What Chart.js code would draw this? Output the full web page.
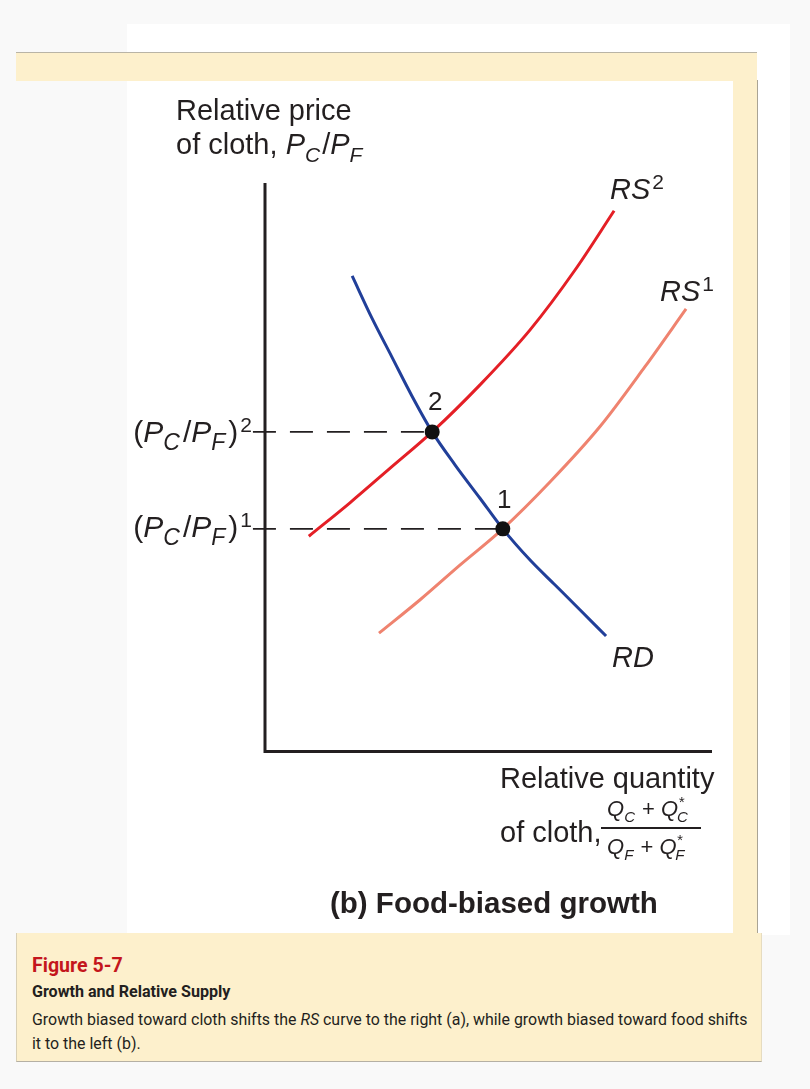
<!DOCTYPE html>
<html>
<head>
<meta charset="utf-8">
<script src="https://cdn.jsdelivr.net/npm/chart.js@4/dist/chart.umd.min.js"></script>
<style>
  body { margin: 0; background: #f9f9f9; }
  #page { position: relative; width: 810px; height: 1089px; overflow: hidden; font-family: "Liberation Sans", Arial, sans-serif; color: #231f20; }
  .blk { position: absolute; }
  .t { position: absolute; white-space: nowrap; line-height: 1; font-size: 29px; }
  .i { font-style: italic; }
  .sub { position: relative; top: 8px; font-size: 21px; margin-right: 2px; }
  .sup { position: relative; top: -10px; font-size: 21px; margin-left: 2px; }
  .big { font-size: 30px; }
  .big .sub { font-size: 23px; margin-right: 3px; }
  .fr { font-size: 22px; }
  .fr .sub { top: 6px; font-size: 15px; margin-right: 1px; }
  .fr .st { position: relative; top: -9px; font-size: 15px; }
  .cap { position: absolute; white-space: nowrap; line-height: 1; font-family: Roboto, sans-serif; transform-origin: 0 0; }
  #chart-box { position: absolute; left: 127px; top: 80px; width: 606px; height: 853px; }
</style>
</head>
<body>
<div id="page">
  <!-- panel background -->
  <div class="blk" style="left:127px;top:24px;width:663px;height:911px;background:#fff"></div>
  <div class="blk" style="left:16px;top:52px;width:741px;height:28px;background:#fdf0cc;border-top:1px solid #b9b4a6"></div>
  <div class="blk" style="left:733px;top:80px;width:24px;height:853px;background:#fdf0cc;border-right:1px solid #aaa494"></div>
  <div class="blk" style="left:16px;top:933px;width:744px;height:128px;background:#fdf0cc;border-left:1px solid #d8cfb6;border-bottom:1px solid #b5b0a4;border-right:1px solid #e6dcc0"></div>

  <div id="chart-box"><canvas id="chart" width="606" height="853"></canvas></div>

  <!-- axis titles -->
  <div class="t" style="left:176px;top:96px">Relative price</div>
  <div class="t" style="left:176px;top:130px">of cloth, <span class="i">P</span><span class="i sub">C</span>/<span class="i">P</span><span class="i sub">F</span></div>
  <div class="t" style="left:500px;top:764px">Relative quantity</div>
  <div class="t" style="left:500px;top:818px">of cloth,</div>
  <div class="t fr" style="left:607px;top:798px"><span class="i">Q</span><span class="i sub">C</span> + <span class="i">Q</span><span class="i st">*</span><span class="i sub" style="margin-left:-7px">C</span></div>
  <div class="blk" style="left:601px;top:827px;width:100px;height:2px;background:#231f20"></div>
  <div class="t fr" style="left:607px;top:836px"><span class="i">Q</span><span class="i sub">F</span> + <span class="i">Q</span><span class="i st">*</span><span class="i sub" style="margin-left:-7px">F</span></div>

  <!-- curve labels -->
  <div class="t" style="left:610px;top:175px"><span class="i">RS</span><span class="sup">2</span></div>
  <div class="t" style="left:660px;top:277px"><span class="i">RS</span><span class="sup">1</span></div>
  <div class="t" style="left:612px;top:643px"><span class="i">RD</span></div>
  <div class="t" style="left:428px;top:388px;font-size:26px">2</div>
  <div class="t" style="left:497px;top:486px;font-size:26px">1</div>

  <!-- price levels -->
  <div class="t big" style="right:558px;top:417px">(<span class="i">P</span><span class="i sub">C</span>/<span class="i">P</span><span class="i sub">F</span>)<span class="sup">2</span></div>
  <div class="t big" style="right:558px;top:512px">(<span class="i">P</span><span class="i sub">C</span>/<span class="i">P</span><span class="i sub">F</span>)<span class="sup">1</span></div>

  <div class="t" style="left:330px;top:888px;font-size:29.5px;font-weight:bold">(b) Food-biased growth</div>

  <!-- caption -->
  <div class="cap" id="cap-fig" data-w="91" style="left:32px;top:955px;font-size:20px;font-weight:bold;color:#c4161c">Figure 5-7</div>
  <div class="cap" id="cap-title" data-w="198" style="left:32px;top:984px;font-size:16.5px;font-weight:bold;color:#231f20">Growth and Relative Supply</div>
  <div class="cap" id="cap-l1" data-w="715" style="left:32px;top:1012px;font-size:16.5px;color:#231f20">Growth biased toward cloth shifts the <span class="i">RS</span> curve to the right (a), while growth biased toward food shifts</div>
  <div class="cap" id="cap-l2" style="left:32px;top:1036px;font-size:16.5px;color:#231f20">it to the left (b).</div>
</div>

<script>
// Relative quantity (x) and relative price (y), both on a 0-100 scale
const rdX  = [19.5, 23.9, 28.4, 32.9, 37.4, 42.5, 48.1, 53.2, 59.3, 64.9, 70.5, 76.3];
const rdY  = [83.6, 76.2, 69.3, 62.4, 56.1, 50.3, 44.4, 39.0, 33.5, 29.1, 24.7, 20.1];
const rs2X = [9.8, 19.0, 28.0, 37.4, 48.1, 59.3, 69.4, 78.1];
const rs2Y = [37.7, 43.6, 49.7, 56.1, 64.4, 74.1, 84.7, 95.1];
const rs1X = [25.5, 34.7, 43.6, 53.2, 63.8, 74.9, 85.0, 94.2];
const rs1Y = [20.6, 26.5, 32.6, 39.0, 47.3, 57.0, 67.6, 77.8];

// equilibria: point 2 (RS2 x RD) and point 1 (RS1 x RD)
const eqX = [37.4, 53.2];
const eqY = [56.1, 39.0];
const dashStartX = -2.7; // dashed guide starts just left of the price axis

const pts = (xs, ys) => xs.map((x, i) => ({ x, y: ys[i] }));
const INK = '#231f20';

const curve = (data, color) => ({
  data, borderColor: color, borderWidth: 3, pointRadius: 0,
  showLine: true, cubicInterpolationMode: 'monotone', clip: false, order: 1
});
const guide = (i) => ({
  data: [{ x: dashStartX, y: eqY[i] }, { x: eqX[i], y: eqY[i] }],
  borderColor: INK, borderWidth: 1.8, borderDash: [23, 14], pointRadius: 0,
  showLine: true, clip: false, order: 2
});

const axesPlugin = {
  id: 'axes',
  beforeDatasetsDraw(chart) {
    const { ctx, scales: { x, y } } = chart;
    const x0 = x.getPixelForValue(0), y0 = y.getPixelForValue(0);
    ctx.save();
    ctx.strokeStyle = INK;
    ctx.lineWidth = 3;
    ctx.beginPath();
    ctx.moveTo(x0, y.getPixelForValue(100));
    ctx.lineTo(x0, y0 + 1.5);
    ctx.lineTo(x.getPixelForValue(100), y0 + 1.5);
    ctx.stroke();
    ctx.restore();
  }
};

new Chart(document.getElementById('chart'), {
  type: 'scatter',
  data: {
    datasets: [
      guide(0), guide(1),
      curve(pts(rs1X, rs1Y), '#ef836f'),
      curve(pts(rs2X, rs2Y), '#e41f26'),
      curve(pts(rdX, rdY), '#213f99'),
      { data: pts(eqX, eqY), pointRadius: 7.5, pointBackgroundColor: '#111', pointBorderWidth: 0, clip: false, order: 0 }
    ]
  },
  options: {
    responsive: false,
    devicePixelRatio: 1,
    animation: false,
    layout: { padding: { left: 138, top: 103, right: 21, bottom: 183 } },
    plugins: { legend: { display: false }, tooltip: { enabled: false } },
    scales: {
      x: { type: 'linear', min: 0, max: 100, display: false },
      y: { type: 'linear', min: 0, max: 100, display: false }
    }
  },
  plugins: [axesPlugin]
});

// caption font is condensed: squeeze each line to the width it has in the print
const l1 = document.getElementById('cap-l1');
let lineScale = 1;
document.querySelectorAll('.cap[data-w]').forEach(el => {
  const s = +el.dataset.w / el.offsetWidth;
  el.style.transform = `scaleX(${s})`;
  if (el === l1) lineScale = s;
});
document.getElementById('cap-l2').style.transform = `scaleX(${lineScale})`;
</script>
</body>
</html>
